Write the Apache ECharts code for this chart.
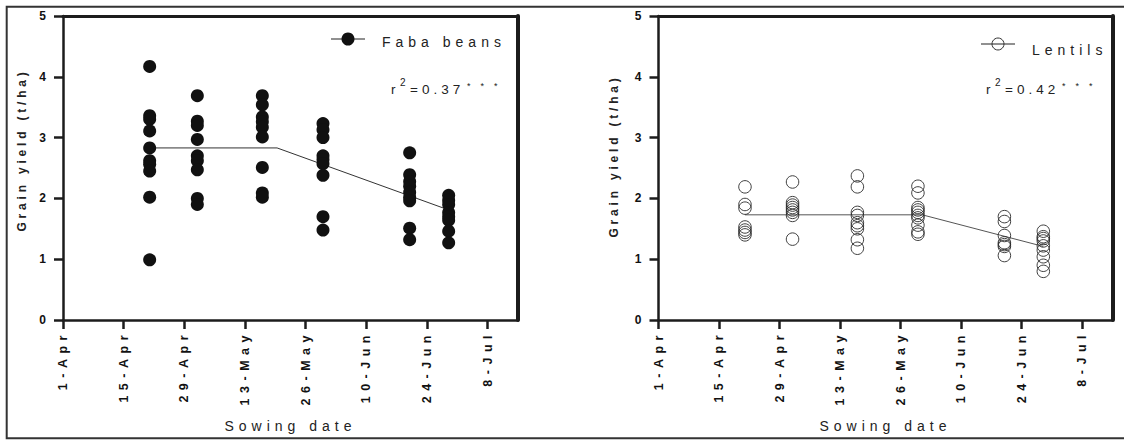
<!DOCTYPE html>
<html><head><meta charset="utf-8">
<script src="https://cdn.jsdelivr.net/npm/echarts@6/dist/echarts.min.js"></script>
<style>html,body{margin:0;padding:0;background:#fff}#c{width:1124px;height:441px}</style>
</head><body><div id="c"></div>
<script>
// ---- data (days after 1-Apr) ----
const tickDays = [0, 14, 28, 42, 56, 70, 84, 98];
const tickLabels = ['1-Apr', '15-Apr', '29-Apr', '13-May', '26-May', '10-Jun', '24-Jun', '8-Jul'];
const sowingDays = [20, 31, 46, 60, 80, 89];
const fabaYield = [
  [4.17, 3.36, 3.30, 3.11, 2.83, 2.62, 2.56, 2.45, 2.02, 0.99],
  [3.69, 3.27, 3.20, 2.97, 2.70, 2.62, 2.47, 2.00, 1.90],
  [3.69, 3.54, 3.34, 3.26, 3.17, 3.01, 2.51, 2.09, 2.02],
  [3.23, 3.13, 3.00, 2.70, 2.64, 2.57, 2.38, 1.70, 1.48],
  [2.75, 2.39, 2.28, 2.20, 2.10, 2.02, 1.96, 1.51, 1.32],
  [2.05, 1.97, 1.90, 1.77, 1.70, 1.64, 1.46, 1.27]
];
const lentilYield = [
  [2.19, 1.90, 1.84, 1.53, 1.48, 1.44, 1.40],
  [2.27, 1.93, 1.89, 1.85, 1.81, 1.77, 1.72, 1.33],
  [2.37, 2.19, 1.77, 1.72, 1.60, 1.55, 1.50, 1.32, 1.18],
  [2.20, 2.09, 1.85, 1.81, 1.77, 1.72, 1.68, 1.56, 1.45, 1.41],
  [1.70, 1.62, 1.39, 1.27, 1.24, 1.21, 1.06],
  [1.46, 1.37, 1.34, 1.30, 1.22, 1.15, 1.04, 0.90, 0.80]
];
const fabaFitDays = [20, 49.4, 89];
const fabaFitYield = [2.83, 2.83, 1.81];
const lentilFitDays = [20, 61, 89];
const lentilFitYield = [1.73, 1.73, 1.21];
const seriesNames = ['Faba beans', 'Lentils'];
const r2Values = ['=0.37', '=0.42'];

// ---- chart ----
const F = '"Liberation Sans", Arial, sans-serif';
const AX = '#1c1c1c';
const TXT = '#222';
const toPts = (days, vals) => days.flatMap((d, i) => vals[i].map(v => [d, v]));
const toLine = (xs, ys) => xs.map((x, i) => [x, ys[i]]);

function xBottom(gi) {
  return {
    type: 'value', gridIndex: gi, min: 0, max: 105,
    name: 'Sowing date', nameLocation: 'middle', nameGap: 99,
    nameTextStyle: { fontFamily: F, fontSize: 14, color: TXT },
    axisLine: { show: true, onZero: false, lineStyle: { color: AX, width: 2.5 } },
    axisTick: { show: true, customValues: tickDays, length: 9, lineStyle: { color: AX, width: 2.5 } },
    axisLabel: {
      customValues: tickDays, rotate: 90, margin: 10, fontFamily: F, fontWeight: 'bold',
      fontSize: 12.5, color: '#111',
      formatter: v => { const i = tickDays.indexOf(v); return i < 0 ? '' : tickLabels[i]; }
    },
    splitLine: { show: false }
  };
}
function xTop(gi) {
  return {
    type: 'value', gridIndex: gi, position: 'top', min: 0, max: 105,
    axisLine: { show: true, onZero: false, lineStyle: { color: AX, width: 3 } },
    axisTick: { show: false }, axisLabel: { show: false }, splitLine: { show: false }
  };
}
function yLeft(gi, gap, pad) {
  return {
    type: 'value', gridIndex: gi, min: 0, max: 5, interval: 1,
    name: 'Grain yield (t/ha)', nameLocation: 'middle', nameGap: gap, nameRotate: 90,
    nameTextStyle: { fontFamily: F, fontSize: 12, fontWeight: 'bold', color: TXT, padding: [0, 0, 0, pad] },
    axisLine: { show: true, onZero: false, lineStyle: { color: AX, width: 2.5 } },
    axisTick: { show: true, length: 9, lineStyle: { color: AX, width: 2.5 } },
    axisLabel: { margin: 17, fontFamily: F, fontWeight: 'bold', fontSize: 12, color: '#111' },
    splitLine: { show: false }
  };
}
function yRight(gi) {
  return {
    type: 'value', gridIndex: gi, position: 'right', min: 0, max: 5, interval: 1,
    axisLine: { show: true, onZero: false, lineStyle: { color: AX, width: 4 } },
    axisTick: { show: false }, axisLabel: { show: false }, splitLine: { show: false }
  };
}

function legendGraphic(x0, cy, ty, filled, label, r2x, r2) {
  return [
    { type: 'line', shape: { x1: x0, y1: cy, x2: x0 + 34, y2: cy }, style: { stroke: '#222', lineWidth: 1.2 } },
    { type: 'circle', shape: { cx: x0 + 17, cy: cy, r: filled ? 6.5 : 6 },
      style: filled ? { fill: '#111' } : { fill: 'none', stroke: '#333', lineWidth: 1 } },
    { type: 'text', x: x0 + 51, y: ty, style: { text: label, fontFamily: F, fontSize: 14, fill: TXT, align: 'left', verticalAlign: 'middle' } },
    { type: 'text', x: r2x, y: 89, style: { text: 'r', fontFamily: F, fontSize: 13.5, fill: TXT, align: 'left', verticalAlign: 'middle' } },
    { type: 'text', x: r2x + 9, y: 82, style: { text: '2', fontFamily: F, fontSize: 10, fill: TXT, align: 'left', verticalAlign: 'middle' } },
    { type: 'text', x: r2x + 19, y: 89, style: { text: r2, fontFamily: F, fontSize: 13.5, fill: TXT, align: 'left', verticalAlign: 'middle' } },
    { type: 'text', x: r2x + 76, y: 86, style: { text: '***', fontFamily: F, fontSize: 9, fill: TXT, align: 'left', verticalAlign: 'middle' } }
  ];
}

const option = {
  animation: false,
  backgroundColor: '#fff',
  grid: [
    { left: 63, top: 16, width: 455, height: 304 },
    { left: 658.5, top: 16, width: 454, height: 304 }
  ],
  xAxis: [xBottom(0), xTop(0), xBottom(1), xTop(1)],
  yAxis: [yLeft(0, 35, 36), yRight(0), yLeft(1, 39, 24), yRight(1)],
  series: [
    { name: seriesNames[0], type: 'line', xAxisIndex: 0, yAxisIndex: 0, data: toLine(fabaFitDays, fabaFitYield),
      symbol: 'none', lineStyle: { color: '#333', width: 1 }, z: 2, silent: true },
    { name: seriesNames[0], type: 'scatter', xAxisIndex: 0, yAxisIndex: 0, data: toPts(sowingDays, fabaYield),
      symbol: 'circle', symbolSize: 13, itemStyle: { color: '#111', opacity: 1 }, z: 3, silent: true },
    { name: seriesNames[1], type: 'line', xAxisIndex: 2, yAxisIndex: 2, data: toLine(lentilFitDays, lentilFitYield),
      symbol: 'none', lineStyle: { color: '#555', width: 1 }, z: 2, silent: true },
    { name: seriesNames[1], type: 'scatter', xAxisIndex: 2, yAxisIndex: 2, data: toPts(sowingDays, lentilYield),
      symbol: 'circle', symbolSize: 12.5,
      itemStyle: { color: 'rgba(0,0,0,0)', borderColor: '#2a2a2a', borderWidth: 0.9, opacity: 1 }, z: 3, silent: true }
  ],
  graphic: [
    { type: 'rect', silent: true, z: -1, shape: { x: 6.7, y: 6.7, width: 1140, height: 431.5 },
      style: { fill: 'none', stroke: '#333', lineWidth: 2 } },
    ...legendGraphic(331, 39, 42, true, seriesNames[0], 391, r2Values[0]),
    ...legendGraphic(981, 44, 50, false, seriesNames[1], 986, r2Values[1])
  ]
};

const chart = echarts.init(document.getElementById('c'), null, { renderer: 'svg', width: 1124, height: 441 });
chart.setOption(option);

// letter spacing like the original figure
const SPACING = { '14px': 5, '13.5px': 4, '12.5px': 5.5, '12px': 3.8, '9px': 10 };
function applySpacing() {
  document.querySelectorAll('#c svg text').forEach(t => {
    const fs = getComputedStyle(t).fontSize;
    const s = SPACING[fs];
    if (s && t.textContent.length > 1) t.style.letterSpacing = s + 'px';
  });
}
applySpacing();
chart.on('finished', applySpacing);
</script>
</body></html>
